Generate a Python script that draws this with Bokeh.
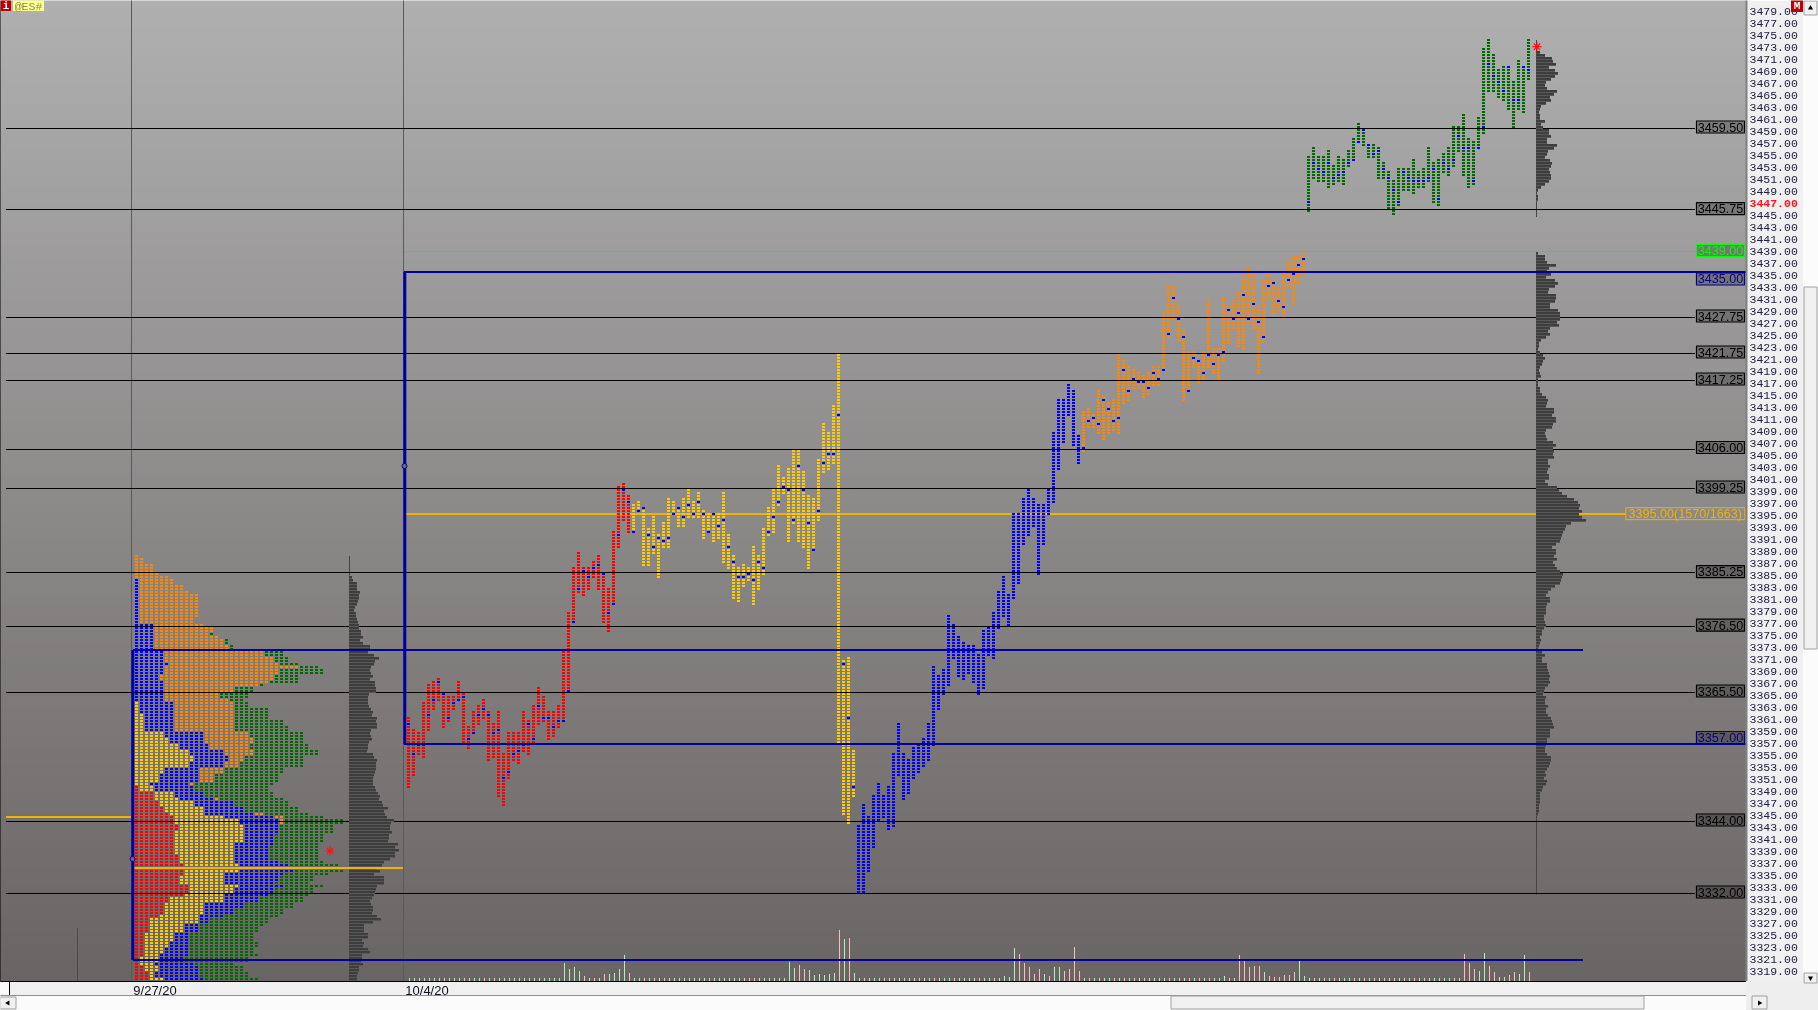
import numpy as np
from bokeh.plotting import figure
from bokeh.core.properties import value
from bokeh.embed import file_html
from bokeh.resources import INLINE
from bokeh.models import Range1d, FixedTicker, NumeralTickFormatter

# ---- five 45-bar sessions: high, low, open-marker prices --------------------
RED_HIGH = [3361.25,3359.25,3358.75,3363.75,3366.75,3367.25,3367.75,3365.25,3364.75,3364.75,3367.25,3365.25,3359.75,3362.25,3363.25,3364.25,3362.25,3360.25,3362.25,3355.25,3358.75,3358.75,3358.75,3362.25,3360.75,3363.25,3366.25,3364.75,3362.25,3362.25,3363.25,3372.25,3378.75,3386.25,3388.75,3386.25,3386.25,3387.25,3388.25,3385.25,3382.75,3392.25,3399.75,3400.25,3398.25]
RED_LOW = [3349.75,3351.75,3355.25,3354.75,3359.25,3362.75,3364.25,3359.75,3360.75,3362.75,3364.25,3357.25,3356.25,3358.75,3360.25,3361.25,3354.25,3354.75,3348.25,3346.75,3351.25,3354.25,3353.75,3355.75,3355.25,3357.25,3360.25,3360.75,3357.75,3358.25,3359.75,3360.75,3365.75,3377.25,3382.25,3381.75,3382.75,3384.75,3382.75,3377.25,3375.75,3380.25,3389.75,3394.25,3392.25]
RED_MARK = [3360.25,3355.25,3356.75,3356.75,3361.75,3364.25,3367.25,3365.25,3361.25,3363.75,3364.25,3364.75,3357.75,3358.75,3361.75,3362.75,3361.75,3358.75,3359.25,3351.25,3352.25,3355.25,3355.75,3356.75,3360.25,3357.75,3363.25,3361.25,3361.25,3359.75,3360.75,3360.75,3365.75,3377.25,3382.75,3385.75,3384.75,3386.25,3386.75,3385.25,3378.75,3380.25,3391.75,3399.25,3397.25]

YELLOW_HIGH = [3396.75,3397.25,3396.25,3392.75,3394.75,3391.75,3393.75,3397.75,3397.25,3396.25,3397.75,3399.25,3397.25,3398.75,3395.75,3395.25,3395.25,3395.25,3398.75,3391.75,3388.25,3386.25,3386.75,3386.25,3389.75,3388.25,3392.75,3396.25,3399.25,3403.25,3401.25,3402.75,3405.75,3405.75,3402.25,3398.25,3397.75,3404.25,3410.25,3408.75,3413.25,3421.75,3370.75,3371.25,3355.75]
YELLOW_LOW = [3392.25,3395.75,3386.75,3386.75,3388.75,3384.75,3389.75,3389.75,3395.25,3393.25,3393.25,3394.75,3394.75,3394.75,3391.25,3392.25,3390.75,3391.25,3387.25,3386.25,3381.25,3380.75,3383.25,3384.25,3380.25,3382.75,3385.25,3391.75,3392.25,3396.75,3398.75,3390.75,3393.75,3390.75,3389.75,3386.25,3389.25,3394.25,3402.25,3402.75,3403.75,3357.25,3345.25,3343.75,3348.25]
YELLOW_MARK = [3392.25,3395.75,3396.25,3391.75,3389.75,3391.25,3390.75,3391.25,3395.25,3396.25,3394.75,3396.75,3395.25,3397.25,3395.25,3392.25,3395.25,3393.25,3394.25,3389.75,3387.25,3384.75,3384.75,3385.25,3384.25,3387.25,3386.25,3392.25,3394.75,3397.25,3399.75,3399.25,3394.25,3403.25,3399.25,3393.75,3389.25,3395.75,3403.75,3405.25,3405.25,3411.75,3370.25,3361.25,3349.75]

BLUE_HIGH = [3343.25,3346.75,3344.75,3348.25,3350.25,3348.25,3349.75,3355.25,3360.25,3355.25,3354.25,3356.25,3356.75,3357.75,3360.25,3369.75,3368.25,3369.25,3378.25,3376.75,3374.75,3373.75,3373.25,3373.25,3371.75,3375.75,3376.25,3378.75,3382.25,3384.75,3381.75,3395.25,3395.25,3397.75,3399.25,3397.75,3396.75,3396.75,3399.25,3408.75,3414.25,3414.25,3416.75,3415.75,3408.25]
BLUE_LOW = [3332.25,3332.25,3335.75,3339.75,3344.25,3344.75,3342.75,3343.25,3351.75,3347.75,3348.75,3351.25,3352.25,3353.25,3354.25,3356.75,3362.75,3365.25,3366.75,3371.25,3368.25,3367.75,3368.75,3367.25,3365.25,3366.25,3371.75,3371.25,3376.25,3378.25,3376.75,3381.25,3383.75,3390.25,3391.75,3393.25,3385.25,3390.25,3395.25,3397.25,3402.75,3407.25,3411.75,3406.75,3403.75]

ORANGE_HIGH = [3412.25,3412.75,3411.75,3415.75,3414.75,3413.75,3414.25,3421.75,3420.75,3419.75,3419.25,3418.75,3418.25,3418.75,3419.75,3419.75,3428.75,3433.25,3433.25,3429.75,3425.75,3422.25,3422.25,3420.75,3422.25,3430.75,3422.75,3422.75,3431.25,3429.75,3430.75,3432.25,3434.75,3436.25,3435.25,3429.75,3434.25,3435.25,3434.25,3432.75,3435.25,3437.25,3438.25,3438.25,3438.75]
ORANGE_LOW = [3405.75,3409.75,3409.75,3408.75,3407.75,3408.75,3409.25,3408.75,3413.75,3414.25,3416.25,3416.25,3414.75,3415.25,3416.75,3416.75,3419.25,3424.75,3427.75,3424.25,3414.25,3415.75,3419.75,3417.25,3417.75,3419.75,3418.75,3417.75,3420.75,3423.75,3426.25,3423.25,3422.75,3427.25,3426.25,3418.75,3424.25,3431.25,3428.75,3429.25,3428.25,3433.25,3430.25,3433.75,3435.25]
ORANGE_MARK = [3406.25,3410.75,3411.25,3410.25,3414.25,3412.75,3410.75,3411.25,3419.25,3415.75,3417.75,3417.25,3417.25,3416.25,3418.75,3417.75,3419.25,3425.25,3431.25,3427.75,3424.75,3415.75,3421.25,3420.75,3418.75,3421.75,3420.25,3421.75,3422.25,3429.25,3427.75,3428.75,3431.75,3427.75,3430.25,3427.25,3424.75,3433.25,3433.75,3430.75,3429.75,3434.25,3435.25,3436.75,3437.75]

GREEN_HIGH = [3454.75,3456.25,3454.75,3454.75,3455.75,3453.25,3454.75,3454.25,3455.75,3457.75,3460.25,3459.25,3456.75,3456.75,3456.25,3453.75,3452.25,3450.75,3452.75,3452.75,3452.75,3454.25,3452.25,3452.75,3456.25,3453.75,3454.25,3455.25,3456.25,3459.75,3459.75,3461.75,3457.75,3457.25,3461.25,3472.75,3474.25,3471.75,3469.25,3469.75,3469.75,3467.25,3470.75,3469.75,3474.25]
GREEN_LOW = [3445.75,3451.25,3450.75,3450.75,3449.75,3450.25,3450.75,3450.25,3453.25,3454.25,3457.25,3456.75,3454.75,3454.75,3451.25,3451.25,3446.25,3445.25,3446.75,3449.25,3449.25,3448.75,3449.75,3449.75,3450.75,3447.25,3446.75,3452.25,3451.75,3453.25,3455.75,3451.75,3449.75,3450.25,3456.25,3458.75,3465.75,3465.75,3464.75,3464.25,3462.75,3459.75,3462.75,3462.25,3467.75]
GREEN_MARK = [3447.25,3453.75,3452.75,3452.25,3453.75,3451.25,3451.75,3452.25,3453.75,3454.25,3457.25,3459.25,3456.75,3455.25,3455.75,3452.75,3451.25,3449.25,3447.25,3452.25,3451.25,3450.75,3450.75,3450.75,3451.25,3452.75,3447.75,3453.75,3452.75,3454.25,3458.25,3456.25,3456.25,3450.75,3456.25,3459.75,3470.25,3468.25,3467.25,3465.75,3469.75,3464.25,3464.25,3469.75,3469.25]

# ---- volume per bar ----------------------------------------------------------
RED_VOLUME = [3,3,3,3,3,3,3,3,3,3,3,3,3,3,3,3,3,3,3,3,3,3,3,3,3,3,3,3,3,3,3,18,12,14,10,5,3,3,3,7,7,8,12,26,8]
YELLOW_VOLUME = [3,3,3,3,3,3,3,3,3,3,3,3,3,3,3,3,3,3,3,3,3,3,3,3,3,3,3,3,3,3,3,19,13,16,12,11,6,7,6,7,8,51,42,43,8]
BLUE_VOLUME = [3,3,3,3,3,3,3,3,3,3,3,3,3,3,3,3,3,3,3,3,3,3,3,3,3,3,3,3,3,5,4,33,27,18,14,7,12,7,5,14,14,10,12,34,10]
ORANGE_VOLUME = [3,3,3,3,3,3,3,3,3,3,3,3,3,3,3,3,3,3,3,3,3,3,3,3,3,3,3,3,5,3,3,26,21,14,15,15,9,5,4,4,6,6,9,20,5]
GREEN_VOLUME = [3,3,3,3,3,3,3,3,3,3,3,3,3,3,3,3,3,3,3,3,3,3,3,3,3,3,3,3,3,3,3,27,18,12,10,28,15,9,4,4,6,9,7,26,9]
VOLUME_SIDE = ("gggggggpgggpgggpgpgggggggggggggggggpgpgpggggp"
               "ggpgpgpggggggggpgggggggppggggggggppggggggpgpg"
               "gpgggpgggpggpggpgggpggggpggpggggpppppgpggpppp"
               "gpgpggpgpgpgpggggpgpgpgpgpgggpgpppppgppppppgg"
               "gpgpgpgggpgpgpgpgpgpgpgpgggggpgpppggppggppggp")

# ---- composite profile of the previous session (cumulative bar counts) -------
PROFILE_PRICE = [3388.25,3387.75,3386.75,3385.25,3384.75,3384.25,3383.25,3382.25,3381.75,3377.75,3376.75,3376.25,3375.25,3374.75,3374.25,3373.25,3372.25,3371.25,3370.25,3369.75,3369.25,3368.25,3367.25,3366.75,3366.25,3365.25,3364.25,3363.75,3362.75,3361.75,3360.75,3359.75,3358.75,3357.75,3356.75,3355.75,3354.75,3353.75,3352.75,3351.75,3350.25,3349.75,3348.75,3347.75,3347.25,3346.25,3345.25,3344.75,3344.25,3343.25,3342.25,3341.75,3340.25,3339.75,3338.25,3337.25,3336.75,3336.25,3335.25,3334.75,3333.75,3333.25,3332.75,3331.75,3331.25,3330.25,3329.25,3328.25,3327.75,3326.75,3326.25,3325.25,3323.75,3322.75,3321.75,3321.25,3320.25,3319.75,3318.75,3317.75]
PROFILE_RED = [0,0,0,0,0,0,0,0,0,0,0,0,0,0,0,0,0,0,0,0,0,0,0,0,0,0,0,0,0,0,0,0,0,0,0,0,0,0,0,0,0,1,4,4,5,6,7,8,8,9,8,8,8,8,9,9,10,10,10,9,9,11,11,10,7,6,6,5,3,3,3,2,2,2,2,1,1,2,3,3]
PROFILE_YELLOW = [0,0,0,0,0,0,0,0,0,0,0,0,0,0,0,0,0,0,0,0,0,0,0,0,0,0,0,1,1,2,2,2,6,7,9,11,12,11,6,5,3,4,8,9,12,14,14,18,21,22,22,22,20,20,20,20,21,21,18,18,18,21,20,18,18,14,14,13,13,10,10,8,7,6,5,5,4,5,4,6]
PROFILE_BLUE = [0,0,0,0,0,1,1,1,1,1,4,4,4,4,4,4,6,6,7,6,6,5,6,6,6,6,6,8,8,8,8,8,14,14,15,18,19,18,13,13,11,12,14,16,20,22,24,28,29,29,29,28,28,27,27,29,31,32,30,29,28,30,28,27,25,22,20,18,15,13,13,11,11,11,11,10,12,13,13,14]
PROFILE_ORANGE = [1,2,4,5,7,8,10,11,13,12,14,16,15,17,18,19,26,28,29,33,29,28,27,25,20,17,19,20,20,20,20,20,23,24,23,24,22,21,18,16,12,12,14,17,20,22,26,30,30,29,29,28,28,27,27,29,31,32,30,29,28,30,28,27,25,22,20,18,15,13,13,11,11,11,11,10,12,13,13,14]
PROFILE_GREEN = [1,2,4,5,7,8,10,11,13,12,14,16,16,17,19,20,30,31,33,37,38,33,33,26,24,23,22,23,27,27,30,31,34,34,35,37,34,34,30,29,28,27,28,30,31,33,35,38,42,40,40,38,37,37,37,38,41,42,39,36,35,38,36,35,34,32,30,29,27,26,25,24,25,24,25,23,20,22,23,25]

# ---- volume histograms, one value per 0.5 row ---------------------------------
LEFT_HIST_TOP = 3385.25
LEFT_HIST = [1,3,4,8,8,8,11,10,10,9,8,6,5,7,7,8,9,10,10,12,12,14,11,14,21,21,19,25,30,26,25,22,21,22,24,21,26,26,27,27,20,19,19,19,20,22,24,23,28,27,28,28,22,21,22,23,20,19,19,18,24,25,28,27,27,27,26,25,24,24,24,26,27,29,31,30,33,34,39,35,36,38,45,42,41,41,43,40,40,39,49,46,50,46,46,41,35,33,27,31,25,35,35,35,28,27,26,25,23,21,22,24,24,23,28,32,24,15,15,15,19,19,13,15,14,19,21,13,13,12,14,10,10,9,8,8]
RIGHT_UP_TOP = 3472.25
RIGHT_UP = [4,9,16,17,20,13,19,22,19,15,10,9,11,21,18,14,15,10,5,4,3,4,4,9,5,7,13,13,15,11,11,21,18,12,11,9,14,16,15,13,14,15,15,13,9,5,2,1,2,2]
RIGHT_LOW_TOP = 3438.75
RIGHT_LOW = [2,9,9,11,20,13,11,15,10,19,22,19,13,12,20,20,19,14,14,22,24,24,24,21,23,14,12,14,10,5,3,3,2,4,7,9,7,6,4,3,4,5,2,2,2,4,4,6,10,12,11,10,18,18,16,20,20,17,16,10,9,10,11,17,20,17,18,17,18,12,12,14,12,11,13,13,9,12,21,23,26,31,38,42,44,43,46,43,46,50,35,30,29,27,26,25,24,20,16,20,20,18,21,17,19,21,24,27,26,25,24,19,15,12,10,14,14,11,10,10,10,8,8,9,10,8,6,6,4,5,4,3,2,6,9,6,6,11,11,12,13,14,13,14,12,9,8,7,10,9,9,12,10,10,12,15,16,17,18,14,14,14,11,11,10,9,9,11,15,15,14,13,11,9,10,8,11,10,7,6,4,4,4,4,3,3,3,2,1]

# ---- reference levels ---------------------------------------------------------
LEVEL_LINE = [3459.5,3446,3428,3422,3417.5,3406,3399.5,3385.5,3376.5,3365.5,3344,3332]
LEVEL_TEXT = ["3459.50","3445.75","3427.75","3421.75","3417.25","3406.00","3399.25","3385.25","3376.50","3365.50","3344.00","3332.00"]
LEVEL_TAG = [3459.75,3446.13,3428.25,3422.25,3417.75,3406.33,3399.75,3385.63,3376.72,3365.75,3344.25,3332.25]
DATE_TEXT = ["9/27/20","10/4/20"]

GREEN_LEVEL, GREEN_TEXT = 3439, "3439.00"
BLUE_LEVELS = [3435.58, 3356.92]
BLUE_TEXT = ["3435.00", "3357.00"]
BLUE_TAG = [3434.42, 3358.0]
PREV_VALUE_AREA = [3372.58, 3320.92]
POC_LEVEL, POC_TEXT = 3395.25, "3395.00(1570/1663)"
PREV_POC_LEVELS = [3344.75, 3336.25]
LAST_PRICE = 3447.0

# ---- geometry helpers: 5 px per bar, 6 px per price point ----------------------
W, H = 1818, 1010
PX_RIGHT, PX_BOTTOM = 1746, 981
OFF = 0.5   # the canvas layer is translated by half a pixel
def jx(px):
    return (px - 408.5) / 5
def py(px):
    return 3479 - (px - 11.5) / 6

p = figure(width=W, height=H, output_backend="svg", toolbar_location=None,
           x_range=Range1d(jx(OFF), jx(PX_RIGHT + OFF)), y_range=Range1d(py(PX_BOTTOM + OFF), py(OFF)),
           y_axis_location="right", min_border_left=0, min_border_top=0,
           min_border_right=W - PX_RIGHT, min_border_bottom=H - PX_BOTTOM,
           outline_line_color=None, border_fill_color="#f0f0f0")
p.styles = {"position": "fixed", "left": "0px", "top": "0px"}
p.grid.visible = False
p.extra_y_ranges["volume"] = Range1d(-OFF, PX_BOTTOM - OFF)

# background gradient (painter's order)
n = 140
for i in range(n):
    t = i / n
    c = (int(176 - 70 * t), int(176 - 75 * t), int(176 - 75 * t))
    p.quad(left=jx(-2), right=jx(PX_RIGHT + 2), top=py(PX_BOTTOM * t - (3 if i == 0 else 0)), bottom=py(PX_BOTTOM + 2),
           fill_color="#%02x%02x%02x" % c, line_color=None)

# thin verticals
for x0, a, b in [(131.5, 0, PX_BOTTOM), (403.5, 0, PX_BOTTOM)]:
    p.segment(jx(x0), py(a), jx(x0), py(b), line_color="#5a5a5a", line_width=1)
p.segment(jx(0.5), py(0), jx(0.5), py(PX_BOTTOM), line_color="#000000", line_width=1)
p.segment(jx(77.5), py(928), jx(77.5), py(PX_BOTTOM), line_color="#4a4a4a", line_width=1)
p.segment(jx(349.5), py(556), jx(349.5), py(PX_BOTTOM), line_color="#444444", line_width=1)
p.segment(jx(1536.5), py(40), jx(1536.5), py(217), line_color="#444444", line_width=1)
p.segment(jx(1536.5), py(255), jx(1536.5), py(895), line_color="#444444", line_width=1)

# horizontal levels, behind the blocks
p.segment([jx(6)] * len(LEVEL_LINE), LEVEL_LINE, [jx(1695)] * len(LEVEL_LINE), LEVEL_LINE,
          line_color="#000000", line_width=1)
p.segment(jx(404), GREEN_LEVEL, jx(1695), GREEN_LEVEL, line_color="#00ff00", line_width=1)
GOLD = "#f0b400"
p.segment(jx(404), POC_LEVEL, jx(1626), POC_LEVEL, line_color=GOLD, line_width=2)
p.segment(jx(6), PREV_POC_LEVELS[0], jx(131), PREV_POC_LEVELS[0], line_color=GOLD, line_width=2)

# histograms: each row is a 3 px band, lighter on its last pixel
def hist(base_px, top_price, values):
    v = np.array(values, dtype=float)
    pr = top_price - 0.5 * np.arange(len(v))
    p.quad(left=jx(base_px), right=jx(base_px) + v / 5, top=pr + 1 / 6, bottom=pr - 1 / 3,
           fill_color="#585858", line_color=None)
    p.quad(left=jx(base_px), right=jx(base_px) + v / 5, top=pr + 1 / 6, bottom=pr - 1 / 6,
           fill_color="#3e3e3e", line_color=None)
hist(349, LEFT_HIST_TOP, LEFT_HIST)
hist(1536, RIGHT_UP_TOP, RIGHT_UP)
hist(1536, RIGHT_LOW_TOP, RIGHT_LOW)

# session blocks
def blocks(start, high, low, color, mark=None):
    xs, ps, mx, mp = [], [], [], []
    for k, (h, l) in enumerate(zip(high, low)):
        r = np.arange(l, h + 0.01, 0.5)
        xs.extend([start + k] * len(r))
        ps.extend(r.tolist())
        if mark is not None:
            mx.append(start + k)
            mp.append(mark[k])
    xs, ps = np.array(xs, dtype=float), np.array(ps)
    p.quad(left=xs - 0.3, right=xs + 0.3, top=ps + 1 / 6, bottom=ps - 1 / 6,
           fill_color=color, line_color=None)
    if mark is not None:
        mx, mp = np.array(mx, dtype=float), np.array(mp)
        p.quad(left=mx - 0.3, right=mx + 0.3, top=mp + 1 / 6, bottom=mp - 1 / 6,
               fill_color="#0000ff", line_color=None)

RED, YEL, BLU, ORG, GRN = "#ff0000", "#ffcc00", "#0000ff", "#ff8800", "#006a00"
blocks(0, RED_HIGH, RED_LOW, RED, RED_MARK)
blocks(45, YELLOW_HIGH, YELLOW_LOW, YEL, YELLOW_MARK)
blocks(90, BLUE_HIGH, BLUE_LOW, BLU)
blocks(135, ORANGE_HIGH, ORANGE_LOW, ORG, ORANGE_MARK)
blocks(180, GREEN_HIGH, GREEN_LOW, GRN, GREEN_MARK)

# composite profile of the previous week
prof = {RED: ([], []), YEL: ([], []), BLU: ([], []), ORG: ([], []), GRN: ([], [])}
x0 = jx(136.5)
for i, top in enumerate(PROFILE_PRICE):
    nxt = PROFILE_PRICE[i + 1] if i + 1 < len(PROFILE_PRICE) else top - 0.5
    for pr in np.arange(top, nxt, -0.5):
        start = 0
        for col, end in zip((RED, YEL, BLU, ORG, GRN),
                            (PROFILE_RED[i], PROFILE_YELLOW[i], PROFILE_BLUE[i], PROFILE_ORANGE[i], PROFILE_GREEN[i])):
            for c in range(start, end):
                prof[col][0].append(x0 + c)
                prof[col][1].append(pr)
            start = max(start, end)
for col, (xs, ps) in prof.items():
    xs, ps = np.array(xs), np.array(ps)
    p.quad(left=xs - 0.3, right=xs + 0.3, top=ps + 1 / 6, bottom=ps - 1 / 6, fill_color=col, line_color=None)

p.segment(jx(134), PREV_POC_LEVELS[1], jx(403), PREV_POC_LEVELS[1], line_color=GOLD, line_width=2)

# volume bars
vol = np.array(RED_VOLUME + YELLOW_VOLUME + BLUE_VOLUME + ORANGE_VOLUME + GREEN_VOLUME, dtype=float)
vx = np.arange(len(vol), dtype=float)
vcol = ["#b4f0b4" if s == "g" else "#ffbcbc" for s in VOLUME_SIDE]
p.quad(left=vx + 0.1, right=vx + 0.3, top=vol, bottom=0, fill_color=vcol, line_color=None, y_range_name="volume")

# blue value-area lines, on top
NAVY = "#0000a0"
for lvl in BLUE_LEVELS:
    p.segment(jx(404), lvl, jx(PX_RIGHT + 2), lvl, line_color=NAVY, line_width=2)
for lvl in PREV_VALUE_AREA:
    p.segment(jx(133), lvl, jx(1583), lvl, line_color=NAVY, line_width=2)
p.segment(jx(404.8), BLUE_LEVELS[0], jx(404.8), BLUE_LEVELS[1], line_color=NAVY, line_width=3)
p.segment(jx(132.8), PREV_VALUE_AREA[0], jx(132.8), PREV_VALUE_AREA[1], line_color=NAVY, line_width=3)
p.scatter([jx(404.5), jx(132.5)], [py(466), py(859)], marker="circle", size=5,
          fill_color="#6a6a80", line_color=NAVY, line_width=1)
p.scatter([jx(330), jx(1537)], [py(851), py(46.7)], marker="asterisk", size=9, line_color="#ff1010", line_width=1.2)

# level tags
TAG_FONT = value("Liberation Sans")
TAG_SIZE = value("12.6px")
tag_x = jx(1720.5)
tw = 48 / 5
th = 12 / 6
def tag(price, text, color):
    p.rect(x=tag_x, y=price, width=tw, height=th, fill_color="#000000", fill_alpha=0.25, line_color=color, line_width=1.2)
    p.text(x=[tag_x], y=[price], text=[text], text_align="center", text_baseline="middle",
           text_color=color, text_font=TAG_FONT, text_font_size=TAG_SIZE)
for t_p, t_s in zip(LEVEL_TAG, LEVEL_TEXT):
    tag(t_p, t_s, "#000000")
tag(3439.17, GREEN_TEXT, "#00ff00")
for t_p, t_s in zip(BLUE_TAG, BLUE_TEXT):
    tag(t_p, t_s, "#00008c")
gold_x = jx(1685.3)
p.rect(x=gold_x, y=3395.3, width=119 / 5, height=th, fill_color=None, line_color=GOLD, line_width=1)
p.text(x=[gold_x], y=[3395.3], text=[POC_TEXT], text_align="center", text_baseline="middle",
       text_color=GOLD, text_font=TAG_FONT, text_font_size=TAG_SIZE)

# top-left badges
p.quad(left=jx(1), right=jx(11), top=py(-1), bottom=py(11), fill_color="#c00000", line_color=None)
p.text(x=[jx(6)], y=[py(6)], text=["i"], text_align="center", text_baseline="middle", text_color="#ffffff",
       text_font=value("Liberation Mono"), text_font_style="bold", text_font_size=value("11px"))
p.quad(left=jx(13), right=jx(44), top=py(-1), bottom=py(11), fill_color="#ffff90", line_color=None)
p.text(x=[jx(28.5)], y=[py(6)], text=["@ES#"], text_align="center", text_baseline="middle", text_color="#8c8c50",
       text_font=value("Liberation Mono"), text_font_size=value("11.5px"))

# price axis (real right axis)
ya = p.yaxis[0]
ya.ticker = FixedTicker(ticks=np.arange(3319, 3481, 2).tolist())
ya.formatter = NumeralTickFormatter(format="0.00")
ya.major_label_overrides = {3447: " "}
ya.major_tick_line_color = None
ya.minor_tick_line_color = None
ya.axis_line_color = "#808080"
ya.axis_line_width = 2
ya.major_label_standoff = -3
ya.major_label_text_font = "Liberation Mono"
ya.major_label_text_font_size = "11.5px"
ya.major_label_text_color = "#202040"

# date axis
xa = p.xaxis[0]
ticks = [jx(155), jx(427)]
xa.ticker = FixedTicker(ticks=ticks)
xa.major_label_overrides = {ticks[0]: DATE_TEXT[0], ticks[1]: DATE_TEXT[1]}
xa.major_tick_line_color = None
xa.minor_tick_line_color = None
xa.axis_line_color = "#000000"
xa.major_label_standoff = -5
xa.major_label_text_font = "Liberation Sans"
xa.major_label_text_font_size = "13px"
xa.major_label_text_color = "#101020"

# ---- window chrome: second transparent figure laid over the first, in pixels --
c = figure(width=W, height=H, output_backend="svg", toolbar_location=None,
           x_range=Range1d(OFF, W + OFF), y_range=Range1d(H + OFF, OFF),
           x_axis_type=None, y_axis_type=None, min_border=0, outline_line_color=None,
           background_fill_color=None, border_fill_color=None)
c.styles = {"position": "fixed", "left": "0px", "top": "0px"}
c.grid.visible = False
c.extra_y_ranges["price"] = Range1d(py(H + OFF), py(OFF))

def box(l, t, r, b, fill, line=None):
    c.quad(left=l, right=r, top=t, bottom=b, fill_color=fill, line_color=line, line_width=1)

box(-1, 995, 1746, H + 1, "#fbfbfb")
box(-1, 995, 1746, 996, "#909090")
box(1746, 981, W + 1, H + 1, "#eeeeee")
box(1803, -1, W + 1, 983, "#fbfbfb")
box(1171, 996, 1644, 1009, "#f0f0f0", "#a0a0a0")
box(0, 997, 16, 1009, "#f0f0f0", "#a0a0a0")
box(1752, 996, 1767, 1009, "#f0f0f0", "#a0a0a0")
box(1804, 1, 1817, 15, "#f0f0f0", "#a0a0a0")
box(1804, 287, 1817, 649, "#f0f0f0", "#a0a0a0")
box(1804, 973, 1817, 983, "#f0f0f0", "#a0a0a0")
box(1791, -1, 1803, 12, "#c00000")
box(0, 982, 9, 994, "#fbfbfb")
box(9, 982, 10, 995, "#000000")
c.scatter([1810.5, 1759.5], [8, 1003], marker="triangle", size=5, fill_color="#000000", line_color=None, angle=[0, -np.pi / 2])
c.scatter([1810.5, 8], [978, 1003], marker="inverted_triangle", size=5, fill_color="#000000", line_color=None, angle=[0, -np.pi / 2])
c.text(x=[1797], y=[6], text=["M"], text_align="center", text_baseline="middle", text_color="#ffffff",
       text_font=value("Liberation Mono"), text_font_style="bold", text_font_size=value("11px"))
c.text(x=[1749.5], y=[LAST_PRICE], text=["%.2f" % LAST_PRICE], text_align="left", text_baseline="middle",
       text_color="#ff1020", text_font=value("Liberation Mono"), text_font_style="bold",
       text_font_size=value("11.5px"), y_range_name="price")

open("out.html", "w").write(file_html([p, c], INLINE))
